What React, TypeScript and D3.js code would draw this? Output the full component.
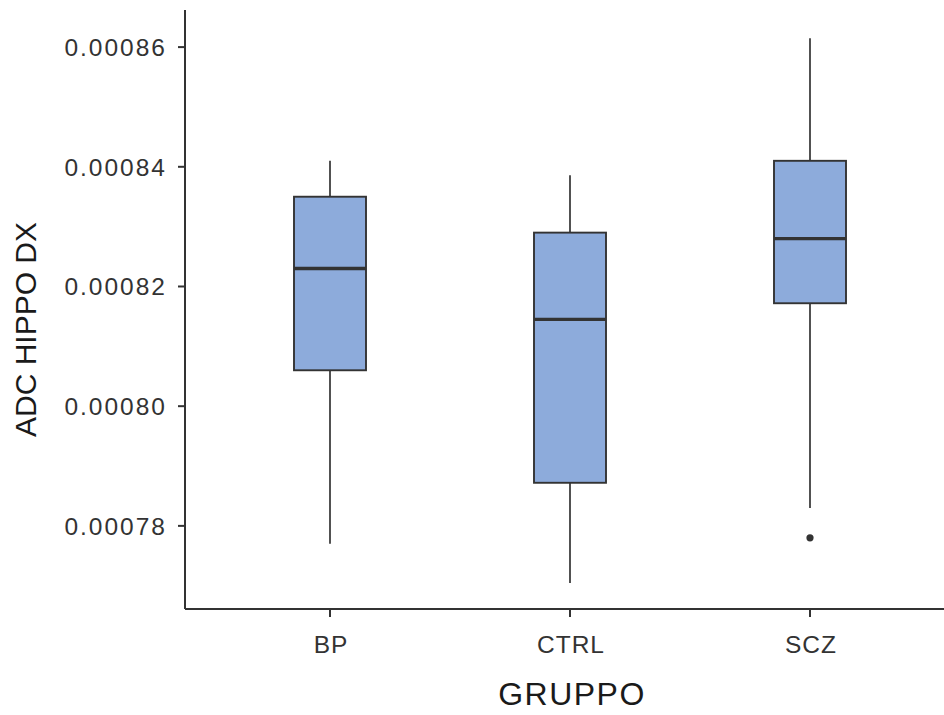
import React from "react";
import * as d3 from "d3";

const categories = ["BP", "CTRL", "SCZ"];
const whiskerLow = [0.000777, 0.00077046, 0.000783];
const q1 = [0.000806, 0.0007872, 0.0008172];
const medians = [0.000823, 0.0008145, 0.000828];
const q3 = [0.000835, 0.000829, 0.000841];
const whiskerHigh = [0.000841, 0.0008386, 0.0008615];
const outliers: [string, number][] = [["SCZ", 0.000778]];
const yTicks = [0.00078, 0.0008, 0.00082, 0.00084, 0.00086];

const W = 944;
const H = 715;
const left = 185;
const top = 10;
const bottom = 609;

export default function App() {
  const y = d3.scaleLinear().domain([0.00076611, 0.0008662]).range([bottom, top]);
  const x = d3.scalePoint<string>().domain(categories).range([186, 954]).padding(0.6);
  const step = x.step();
  const bw = step * 0.3;
  const fmt = d3.format(".5f");
  const stroke = "#333333";
  return (
    <svg width={W} height={H} style={{ position: "absolute", left: 0, top: 0 }}
      fontFamily="'Liberation Sans', Arial, Helvetica, sans-serif">
      <rect x={0} y={0} width={W} height={H} fill="#ffffff" />
      {categories.map((c, i) => {
        const cx = x(c)!;
        return (
          <g key={c}>
            <line x1={cx} x2={cx} y1={y(whiskerHigh[i])} y2={y(q3[i])} stroke={stroke} strokeWidth={1.7} />
            <line x1={cx} x2={cx} y1={y(q1[i])} y2={y(whiskerLow[i])} stroke={stroke} strokeWidth={1.7} />
            <rect x={cx - bw / 2} y={y(q3[i])} width={bw} height={y(q1[i]) - y(q3[i])}
              fill="#8dabdb" stroke={stroke} strokeWidth={1.9} />
            <line x1={cx - bw / 2} x2={cx + bw / 2} y1={y(medians[i])} y2={y(medians[i])} stroke={stroke} strokeWidth={3.4} />
          </g>
        );
      })}
      {outliers.map(([c, v], i) => (
        <circle key={i} cx={x(c)!} cy={y(v)} r={3.6} fill={stroke} />
      ))}
      <line x1={left} x2={left} y1={top} y2={bottom} stroke={stroke} strokeWidth={2} />
      <line x1={left} x2={W} y1={bottom} y2={bottom} stroke={stroke} strokeWidth={2} />
      {yTicks.map((t) => (
        <g key={t}>
          <line x1={left - 7} x2={left} y1={y(t)} y2={y(t)} stroke={stroke} strokeWidth={2} />
          <text x={left - 18} y={y(t)} dy="0.36em" textAnchor="end" fontSize={24.5} letterSpacing={2} fill="#333333">{fmt(t)}</text>
        </g>
      ))}
      {categories.map((c) => (
        <g key={c}>
          <line x1={x(c)!} x2={x(c)!} y1={bottom} y2={bottom + 8} stroke={stroke} strokeWidth={2} />
          <text x={x(c)! + 1} y={bottom + 44} textAnchor="middle" fontSize={24.5} letterSpacing={1} fill="#333333">{c}</text>
        </g>
      ))}
      <text x={572} y={705} textAnchor="middle" fontSize={32} letterSpacing={1.5} fill="#1a1a1a">GRUPPO</text>
      <text transform={`translate(36, ${(top + bottom) / 2 + 20}) rotate(-90)`} textAnchor="middle" fontSize={30} fill="#1a1a1a">ADC HIPPO DX</text>
    </svg>
  );
}
